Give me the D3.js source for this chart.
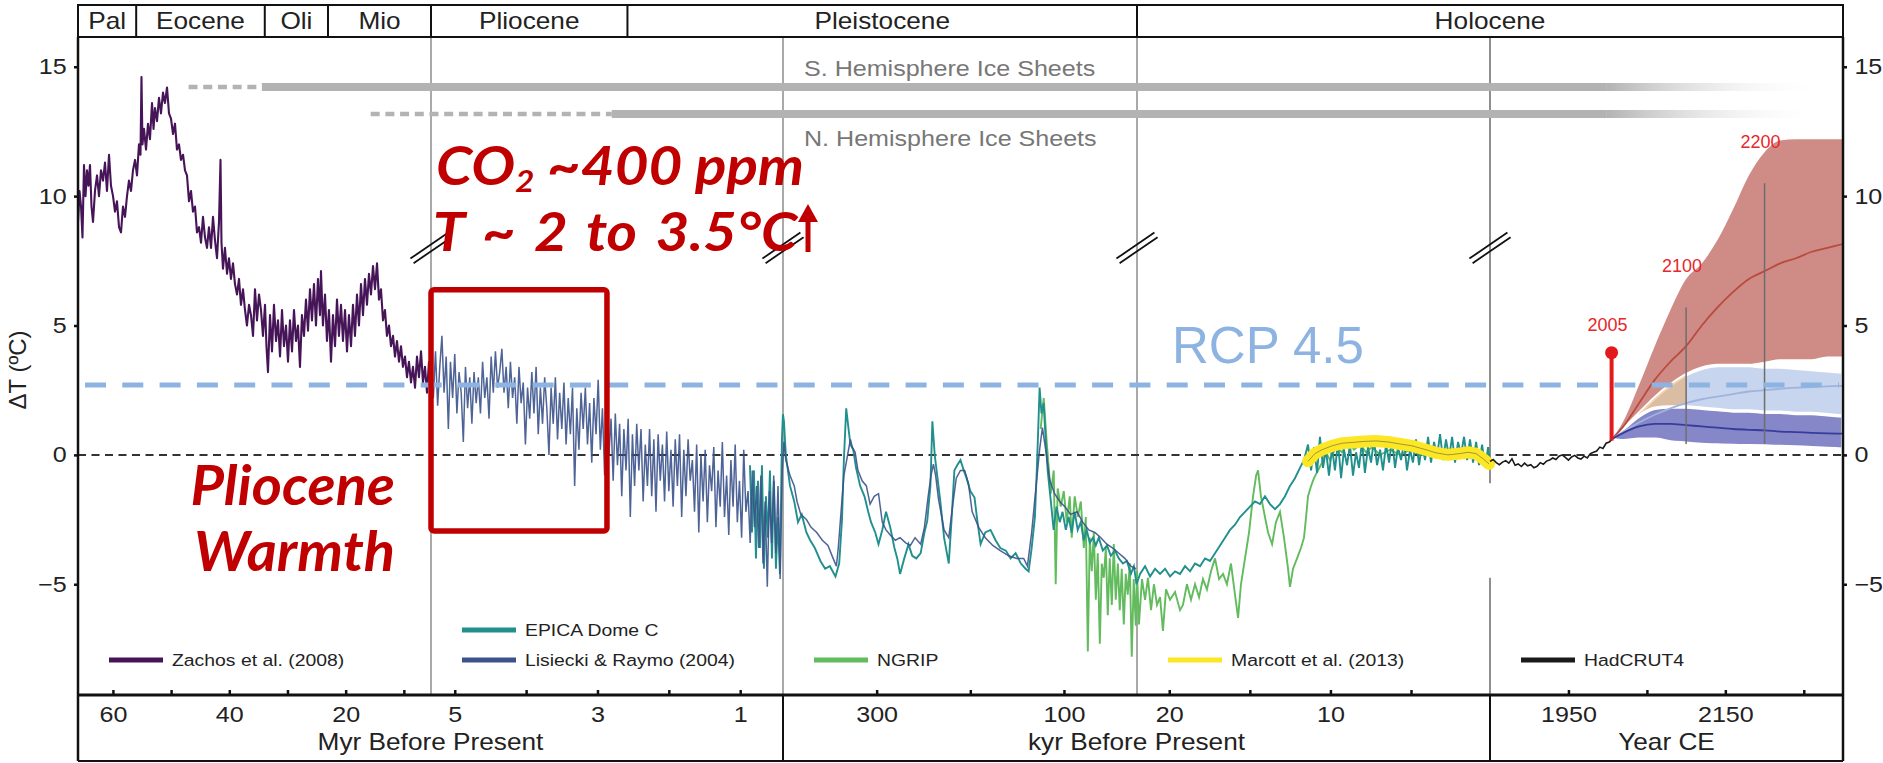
<!DOCTYPE html>
<html>
<head>
<meta charset="utf-8">
<script src="https://cdn.jsdelivr.net/npm/d3@7"></script>
<style>
  html, body { margin: 0; padding: 0; background: #fff; }
  svg { display: block; font-family: "Liberation Sans", Arial, sans-serif; }
</style>
</head>
<body>
<svg id="chart" width="1883" height="763"></svg>
<script>
// ---------- data ----------

// broken time axis: four "age before present" panels (kyr) and one calendar panel (year CE)
const panelDomains = [[66000, 5333], [5333, 400], [400, 22], [22, 0.1], [1850, 2300]];
const tickValuesByPanel = [
  [60000, 50000, 40000, 30000, 20000, 10000],
  [5000, 4000, 3000, 2000, 1000],
  [300, 200, 100],
  [20, 15, 10, 5],
  [1950, 2050, 2150, 2250]
];
const tickLabelsByPanel = [
  ['60', '', '40', '', '20', ''],
  ['5', '', '3', '', '1'],
  ['300', '', '100'],
  ['20', '', '10', ''],
  ['1950', '', '2150', '']
];
const axisTitles = ['Myr Before Present', 'kyr Before Present', 'Year CE'];
const axisTitlePanels = [[0, 2], [2, 4], [4, 5]];
const yTicks = [-5, 0, 5, 10, 15];

// geologic epochs (boundaries in kyr before present, last one runs to the end of the axis)
const epochNames = ['Pal', 'Eocene', 'Oli', 'Mio', 'Pliocene', 'Pleistocene', 'Holocene'];
const epochStarts = [66000, 56000, 33900, 23030, 5333, 2580, 22];

// ice sheets: dotted start (kyr), solid start (kyr), fade start (year CE), end (year CE), level (°C)
const iceLabels = ['S. Hemisphere Ice Sheets', 'N. Hemisphere Ice Sheets'];
const iceDottedFrom = [47000, 15700];
const iceSolidFrom = [34400, 2800];
const iceFadeFrom = [1999, 1999];
const iceEnd = [2275, 2275];
const iceLevel = [14.22, 13.17];
const iceLabelLevel = [14.64, 11.95];

// Zachos et al. (2008), [Myr, °C]
const zachos = [[66.00,9.0],[65.74,10.2],[65.48,9.6],[65.23,8.4],[64.97,11.2],[64.71,10.0],[64.45,11.0],[64.20,10.4],[63.94,11.2],[63.68,9.6],[63.42,9.0],[63.08,10.2],[62.73,10.8],[62.39,10.0],[62.05,11.0],[61.70,10.6],[61.36,11.3],[61.02,10.2],[60.67,11.6],[60.33,10.4],[59.98,10.0],[59.64,9.4],[59.30,9.8],[58.95,8.8],[58.61,8.6],[58.27,9.6],[57.92,9.2],[57.58,10.0],[57.24,10.6],[56.89,10.2],[56.55,11.0],[56.20,11.4],[55.86,10.8],[55.52,12.0],[55.26,11.6],[55.09,14.6],[54.92,12.0],[54.66,12.6],[54.31,11.8],[53.97,12.8],[53.63,12.2],[53.28,13.6],[53.02,12.6],[52.77,13.4],[52.42,12.9],[52.08,13.8],[51.74,13.2],[51.39,14.0],[51.05,13.6],[50.70,14.2],[50.36,13.2],[50.02,13.0],[49.67,12.4],[49.33,12.8],[48.99,11.8],[48.64,12.0],[48.30,11.4],[47.95,11.6],[47.61,11.0],[47.27,10.8],[46.92,9.8],[46.58,10.2],[46.24,9.4],[45.89,9.6],[45.55,8.6],[45.20,8.8],[44.86,8.2],[44.52,9.2],[44.17,8.4],[43.83,8.0],[43.49,8.8],[43.14,8.0],[42.80,9.2],[42.46,8.3],[42.11,7.6],[41.77,9.0],[41.51,11.4],[41.34,8.2],[41.08,7.2],[40.74,8.0],[40.39,7.0],[40.05,7.6],[39.71,6.8],[39.36,7.4],[39.02,6.6],[38.67,6.2],[38.33,6.8],[37.99,5.8],[37.64,6.4],[37.30,5.6],[36.96,5.0],[36.61,5.8],[36.27,5.4],[35.92,4.6],[35.58,6.4],[35.24,5.2],[34.89,6.2],[34.55,5.6],[34.21,4.6],[33.86,5.8],[33.61,4.2],[33.35,3.2],[33.00,5.4],[32.66,4.0],[32.32,5.8],[31.97,4.4],[31.63,5.2],[31.28,3.8],[30.94,5.6],[30.60,4.2],[30.25,5.0],[29.91,3.6],[29.57,5.2],[29.22,4.0],[28.88,5.6],[28.54,4.4],[28.19,5.0],[27.85,3.4],[27.51,5.4],[27.16,4.6],[26.82,6.0],[26.47,4.8],[26.13,6.4],[25.79,5.2],[25.44,6.6],[25.10,5.0],[24.76,6.8],[24.41,5.4],[24.24,7.1],[23.90,5.0],[23.55,6.2],[23.21,4.4],[22.87,5.6],[22.52,3.6],[22.18,5.4],[21.83,4.2],[21.49,6.0],[21.15,4.6],[20.80,5.8],[20.46,4.4],[20.11,5.6],[19.77,4.0],[19.43,5.4],[19.08,4.2],[18.74,5.8],[18.40,4.6],[18.05,6.2],[17.71,5.0],[17.36,6.6],[17.02,5.4],[16.68,6.8],[16.33,5.8],[15.99,7.0],[15.65,6.2],[15.30,7.3],[14.96,6.4],[14.61,7.4],[14.27,6.0],[13.93,6.4],[13.58,5.2],[13.24,5.6],[12.90,4.6],[12.55,5.0],[12.21,4.2],[11.86,4.6],[11.52,3.8],[11.18,4.4],[10.83,3.6],[10.49,4.2],[10.15,3.4],[9.80,3.8],[9.46,3.0],[9.12,3.6],[8.77,2.8],[8.43,3.4],[8.08,2.6],[7.74,3.8],[7.40,3.0],[7.05,4.0],[6.71,2.8],[6.37,3.4],[6.02,2.4],[5.68,3.6],[5.33,3.2]];

// Lisiecki & Raymo (2004), [kyr, °C]
const lisiecki = [[5330,3.6],[5300,2.2],[5270,4.0],[5240,1.9],[5210,3.4],[5180,4.6],[5150,2.4],[5120,3.8],[5090,1.0],[5060,3.6],[5030,2.2],[5000,3.9],[4970,1.6],[4940,3.2],[4910,2.4],[4880,0.5],[4850,3.4],[4820,1.8],[4790,3.0],[4760,1.2],[4730,3.2],[4700,2.0],[4670,3.0],[4640,1.6],[4610,3.6],[4580,2.2],[4550,3.0],[4520,1.4],[4490,3.8],[4460,2.4],[4430,4.0],[4400,2.6],[4370,3.2],[4340,4.1],[4310,2.4],[4280,3.4],[4250,1.8],[4220,3.6],[4190,2.2],[4160,3.0],[4130,1.2],[4100,3.4],[4070,2.0],[4040,2.8],[4010,0.4],[3980,2.6],[3950,1.4],[3920,3.2],[3890,1.6],[3860,3.4],[3830,0.8],[3800,2.6],[3770,1.2],[3740,3.0],[3710,1.8],[3680,0.0],[3650,2.6],[3620,1.2],[3590,3.0],[3560,0.6],[3530,2.4],[3500,1.0],[3470,2.8],[3440,0.4],[3410,2.2],[3380,0.8],[3350,2.6],[3320,-1.2],[3290,1.8],[3260,0.2],[3230,2.4],[3200,1.0],[3170,2.6],[3140,0.4],[3110,2.0],[3080,-0.3],[3050,2.2],[3020,0.8],[2990,2.9],[2960,0.2],[2930,1.8],[2900,-0.8],[2870,2.0],[2840,0.0],[2810,1.4],[2780,-1.0],[2750,1.6],[2720,-0.4],[2690,1.2],[2660,-1.6],[2630,1.0],[2600,-0.6],[2570,1.4],[2540,-2.4],[2510,0.8],[2480,-1.2],[2450,1.2],[2420,-0.6],[2390,1.0],[2360,-1.8],[2330,0.4],[2300,-1.2],[2270,1.0],[2240,-1.6],[2210,0.6],[2180,-2.2],[2150,0.8],[2120,-1.0],[2090,0.4],[2060,-1.8],[2030,0.9],[2000,-1.4],[1970,0.2],[1940,-2.0],[1910,0.6],[1880,-1.2],[1850,0.8],[1820,-2.4],[1790,0.2],[1760,-1.6],[1730,0.6],[1700,-1.0],[1670,-0.2],[1640,-2.2],[1610,0.4],[1580,-3.0],[1550,0.0],[1520,-1.8],[1490,0.2],[1460,-2.6],[1430,-0.4],[1400,-1.4],[1370,0.3],[1340,-2.8],[1310,-0.6],[1280,-2.0],[1250,0.5],[1220,-2.4],[1190,-0.8],[1160,-3.1],[1130,-0.2],[1100,-2.0],[1070,0.4],[1040,-2.6],[1010,-1.0],[980,-3.2],[950,0.2],[920,-2.2],[890,-1.4],[860,-3.4],[830,-0.6],[800,-2.8],[770,-1.2],[740,-3.6],[710,-0.8],[680,-4.2],[650,-1.8],[620,-5.1],[590,-1.4],[560,-3.4],[530,-0.8],[500,-3.8],[470,-1.2],[440,-4.8],[410,-0.6],
  [399,0.5],[397,-0.2],[392.5,-0.8],[388,-1.2],[385,-1.8],[381,-2.3],[375,-2.5],[370,-2.8],[364,-3.0],[358,-3.3],[352,-3.5],[346.5,-4.0],[343,-4.3],[341,-3.6],[338,-2.2],[335,-0.8],[330,0.2],[328,0.6],[326,0.3],[323,0.1],[320,-0.6],[315.5,-1.0],[311,-1.2],[307,-1.9],[302.6,-1.6],[298,-1.5],[294,-2.6],[290,-2.9],[285.5,-3.1],[280,-3.3],[275,-3.2],[269,-3.4],[264,-3.5],[259,-3.2],[253,-3.45],[249,-2.8],[245,-1.6],[242,-0.8],[239.4,-0.36],[237,-0.8],[234,-1.7],[228,-2.9],[223,-3.2],[219,-2.0],[215,-0.9],[210.5,-0.6],[206,-0.6],[202,-1.1],[198,-2.2],[191,-2.8],[184,-3.2],[176,-3.5],[168,-3.7],[159,-3.9],[150.5,-4.0],[143,-4.0],[139,-4.3],[134.5,-3.0],[130,-1.3],[126,0.2],[123,1.05],[119.5,0.2],[115,-1.0],[110,-1.5],[104.5,-1.8],[99,-2.0],[93,-2.3],[86,-2.2],[80,-2.6],[73.5,-2.9],[67,-3.0],[60.6,-3.2],[54.2,-3.45],[47.8,-3.6],[41.4,-3.8],[35,-4.0],[28.5,-4.3],[23.2,-4.4]];

// EPICA Dome C, [kyr, °C]
const epica = [[863,-0.4],[835,-3.0],[807,-0.6],[779,-4.0],[751,-1.0],[723,-3.6],[695,-0.4],[667,-4.4],[639,-1.6],[611,-3.2],[583,-0.6],[555,-4.0],[527,-1.0],[499,-4.4],[471,-2.4],[443,-4.6],[415,0.6],[401,1.57],
  [399,1.3],[397,0.0],[392.5,-1.2],[388,-1.8],[384,-2.6],[380,-2.3],[375,-3.0],[371,-3.3],[366,-3.6],[360,-4.1],[355,-4.4],[350,-4.3],[344,-4.7],[340,-4.2],[337,-2.5],[335,-0.2],[332.5,1.8],[330,1.0],[328,0.4],[325,0.2],[322,-0.5],[317.6,-1.2],[313,-1.6],[309,-2.2],[306,-2.6],[301.5,-3.0],[298,-3.45],[294,-2.9],[290,-2.2],[285.5,-2.8],[281,-3.6],[278,-4.0],[275,-4.6],[270.5,-4.0],[266,-3.45],[262,-3.9],[257.6,-4.0],[253,-3.8],[249,-3.0],[246,-2.55],[242.6,-1.2],[240.5,1.3],[238,0.0],[236,-0.6],[232,-1.8],[228,-3.2],[223,-4.2],[220,-2.5],[217,-0.6],[214,-0.4],[210.5,-0.2],[207,-0.6],[204,-0.9],[200,-1.4],[195.5,-1.65],[192.3,-2.6],[189,-3.45],[184,-3.0],[178.4,-2.9],[173,-3.3],[168,-3.6],[162,-3.7],[157,-4.0],[151.6,-3.8],[146,-4.2],[141,-4.4],[137.7,-4.5],[134.5,-3.6],[131,-2.4],[129,-0.6],[127,1.5],[126,2.6],[124,1.6],[121.7,2.0],[119.5,0.6],[117.4,-0.6],[114,-1.8],[111,-2.9],[108,-2.0],[104.5,-2.6],[101.5,-2.2],[98,-2.9],[95,-2.4],[91.8,-3.0],[88.6,-2.2],[85.3,-2.9],[82,-2.6],[78.9,-3.3],[75.7,-2.9],[72.4,-3.4],[69,-3.2],[66,-3.5],[62.8,-3.2],[58.5,-3.7],[54,-3.5],[50,-3.9],[45.6,-3.7],[41.4,-4.0],[37,-4.2],[32.8,-4.1],[28.5,-4.6],[25.3,-4.3],[22.5,-5.0],
  [21.81,-4.6],[21.50,-4.3],[21.19,-4.7],[20.88,-4.4],[20.57,-4.6],[20.26,-4.4],[19.95,-4.7],[19.64,-4.5],[19.33,-4.6],[19.02,-4.3],[18.71,-4.5],[18.40,-4.2],[18.09,-4.3],[17.78,-4.0],[17.47,-4.1],[17.16,-3.8],[16.85,-3.5],[16.54,-3.2],[16.23,-2.9],[15.92,-2.7],[15.61,-2.4],[15.30,-2.2],[14.99,-2.0],[14.68,-1.8],[14.37,-1.9],[14.06,-1.6],[13.75,-1.9],[13.44,-2.1],[13.13,-1.9],[12.82,-1.6],[12.51,-1.2],[12.20,-0.9],[11.89,-0.5],[11.64,-0.2],[11.39,0.4],[11.20,-0.6],[11.02,0.3],[10.83,-0.7],[10.65,0.7],[10.46,-0.5],[10.28,0.2],[10.09,-0.8],[9.90,0.3],[9.72,-0.6],[9.53,0.5],[9.34,-0.9],[9.16,0.2],[8.97,-0.4],[8.79,0.4],[8.60,-0.8],[8.41,0.1],[8.23,-0.5],[8.04,0.5],[7.86,-0.7],[7.67,0.3],[7.48,-0.3],[7.30,0.6],[7.11,-0.4],[6.92,0.2],[6.74,-0.6],[6.55,0.4],[6.36,-0.3],[6.18,0.6],[5.99,-0.5],[5.81,0.3],[5.62,-0.2],[5.43,0.5],[5.25,-0.6],[5.06,0.2],[4.88,-0.3],[4.69,0.6],[4.50,-0.4],[4.32,0.4],[4.13,-0.2],[3.94,0.7],[3.76,-0.3],[3.57,0.5],[3.39,-0.1],[3.20,0.8],[3.01,-0.2],[2.83,0.6],[2.64,-0.1],[2.45,0.7],[2.27,-0.3],[2.08,0.5],[1.90,0.0],[1.71,0.7],[1.52,-0.2],[1.34,0.6],[1.15,-0.3],[0.96,0.5],[0.78,-0.4],[0.59,0.4],[0.40,-0.5],[0.22,0.3],[0.10,-0.3]];

// NGRIP, [kyr, °C]
const ngrip = [[124.9,1.0],[121.6,2.2],[118.4,0.5],[114.1,-1.5],[110.9,-0.6],[108.8,-5.0],[106.7,-1.3],[103.4,-2.0],[100.2,-1.4],[97.0,-2.6],[93.8,-1.6],[91.7,-3.2],[88.5,-1.6],[85.2,-2.4],[82.0,-1.8],[78.8,-3.6],[76.7,-2.4],[74.5,-7.6],[72.4,-3.2],[70.3,-4.5],[68.1,-3.0],[66.0,-5.6],[63.9,-3.8],[61.7,-7.3],[59.6,-4.2],[57.5,-4.75],[55.3,-3.6],[53.2,-6.2],[51.1,-4.0],[48.9,-5.8],[46.8,-3.45],[44.7,-5.6],[42.4,-4.2],[40.4,-6.0],[38.3,-4.4],[36.1,-6.55],[34.0,-4.6],[31.9,-5.4],[29.7,-4.2],[27.6,-7.8],[25.5,-4.8],[23.3,-6.6],
  [22.0,-4.5],[21.88,-6.55],[21.69,-4.8],[21.50,-5.6],[21.32,-4.75],[21.13,-6.0],[20.95,-5.0],[20.76,-5.8],[20.57,-5.5],[20.39,-6.8],[20.20,-5.2],[19.95,-5.6],[19.64,-5.3],[19.33,-6.0],[19.15,-5.8],[18.90,-5.0],[18.65,-5.6],[18.40,-5.0],[18.15,-5.5],[17.91,-4.8],[17.66,-5.2],[17.41,-4.5],[17.16,-4.0],[16.91,-4.8],[16.66,-4.6],[16.42,-5.0],[16.17,-4.2],[15.92,-5.4],[15.73,-6.3],[15.55,-5.0],[15.30,-4.0],[15.05,-3.0],[14.80,-1.6],[14.61,-0.8],[14.49,-0.6],[14.31,-1.6],[14.06,-2.4],[13.87,-3.0],[13.62,-3.45],[13.38,-2.6],[13.13,-2.2],[12.88,-3.2],[12.63,-4.4],[12.51,-5.1],[12.32,-4.4],[12.07,-4.0],[11.83,-3.6],[11.64,-3.2],[11.51,-2.4],[11.39,-1.6],[11.20,-1.2],[11.02,-0.9],[10.77,-0.6],[10.52,-0.3],[10.28,0.1],[10.03,-0.2],[9.65,0.3],[9.28,0.1],[8.91,0.5],[8.54,0.2],[8.16,0.4],[7.79,0.1],[7.42,0.3],[6.92,0.0],[6.30,0.2],[5.68,0.0],[5.06,0.2],[4.44,0.0],[3.82,0.1],[3.20,0.0],[2.58,-0.1],[1.96,0.0],[1.34,-0.1],[0.72,-0.2],[0.10,-0.3]];

// Marcott et al. (2013), [kyr, °C]
const marcott = [[11.39,-0.25],[10.96,0.05],[10.52,0.2],[9.90,0.35],[9.28,0.45],[8.66,0.48],[7.92,0.52],[7.17,0.54],[6.43,0.5],[5.68,0.42],[4.94,0.35],[4.19,0.22],[3.45,0.08],[2.71,0.0],[1.96,0.05],[1.46,0.1],[0.97,0.05],[0.53,-0.15],[0.16,-0.35]];

// HadCRUT4, [year CE, °C]
const hadcrut = [[1850,-0.25],[1854,-0.18],[1858,-0.3],[1862,-0.38],[1866,-0.28],[1870,-0.22],[1874,-0.32],[1878,-0.15],[1882,-0.4],[1886,-0.35],[1890,-0.45],[1894,-0.32],[1898,-0.42],[1902,-0.38],[1906,-0.5],[1910,-0.44],[1914,-0.3],[1918,-0.36],[1922,-0.24],[1926,-0.2],[1930,-0.12],[1934,-0.18],[1938,-0.05],[1942,0.0],[1946,-0.1],[1950,-0.2],[1954,-0.08],[1958,-0.02],[1962,-0.12],[1966,-0.16],[1970,-0.05],[1974,-0.12],[1978,0.05],[1982,0.1],[1986,0.15],[1990,0.3],[1994,0.25],[1998,0.45],[2002,0.5],[2005,0.58]];

// projections 2005-2300
const projYears = [2005, 2020, 2040, 2060, 2080, 2100, 2120, 2140, 2160, 2180, 2200, 2220, 2240, 2260, 2280, 2300];
const rcp85High = [0.6, 1.3, 2.7, 4.2, 5.6, 6.8, 7.4, 8.3, 9.5, 10.8, 11.7, 12.15, 12.2, 12.2, 12.2, 12.2];
const rcp85Low = [0.6, 0.9, 1.4, 1.9, 2.4, 2.8, 3.1, 3.3, 3.4, 3.5, 3.6, 3.7, 3.7, 3.7, 3.8, 3.8];
const rcp85Mid = [0.6, 1.1, 2.0, 2.9, 3.6, 4.2, 5.0, 5.7, 6.3, 6.8, 7.1, 7.4, 7.6, 7.85, 8.0, 8.15];
const rcp45High = [0.6, 1.0, 1.6, 2.2, 2.7, 3.1, 3.35, 3.45, 3.45, 3.45, 3.4, 3.4, 3.35, 3.3, 3.25, 3.2];
const rcp45Low = [0.6, 0.8, 1.0, 1.2, 1.35, 1.45, 1.5, 1.55, 1.55, 1.55, 1.55, 1.55, 1.55, 1.5, 1.5, 1.5];
const rcp45Mid = [0.6, 0.9, 1.25, 1.55, 1.8, 2.0, 2.15, 2.25, 2.35, 2.45, 2.5, 2.55, 2.6, 2.62, 2.65, 2.67];
const rcp26High = [0.6, 1.0, 1.5, 1.8, 1.85, 1.85, 1.8, 1.75, 1.7, 1.7, 1.65, 1.65, 1.6, 1.6, 1.55, 1.5];
const rcp26Low = [0.6, 0.55, 0.6, 0.6, 0.5, 0.45, 0.4, 0.38, 0.36, 0.35, 0.34, 0.32, 0.3, 0.28, 0.25, 0.22];
const rcp26Mid = [0.6, 0.85, 1.1, 1.2, 1.2, 1.15, 1.1, 1.05, 1.0, 0.97, 0.95, 0.9, 0.88, 0.85, 0.83, 0.82];
const rcp60Years = [2005, 2020, 2040, 2060, 2080, 2100];
const rcp60High = [0.6, 1.0, 1.6, 2.2, 2.7, 3.1];
const rcp60Low = [0.6, 0.8, 1.1, 1.4, 1.7, 2.0];

// year markers on the projections
const markYears = [2100, 2200];
const markTops = [5.7, 10.5];
const markLabels = ['2005', '2100', '2200'];
const markLabelYears = [2005, 2100, 2200];
const markLabelLevels = [4.8, 7.05, 11.85];
const pinYear = 2005, pinBase = 0.55, pinTop = 3.95;

const rcpLevel = 2.7;
const legendLabels = ['Zachos et al. (2008)', 'EPICA Dome C', 'Lisiecki & Raymo (2004)', 'NGRIP', 'Marcott et al. (2013)', 'HadCRUT4'];

// ---------- layout ----------
const W = 1883, H = 763;
const plotLeft = 78, plotRight = 1843, plotTop = 37, plotBottom = 695;
const headerTop = 5, boxBottom = 761;
const panelEdges = [78, 431, 783, 1137, 1490, 1843];
const sx = 1.14; // the source figure's lettering is a bit wide
const colors = { zachos: '#461558', lisiecki: '#3b528b', epica: '#21908d', ngrip: '#62bb5c', marcott: '#fde725', hadcrut: '#1a1a1a' };
const red = '#c00000';

const svg = d3.select('#chart');

const y = d3.scaleLinear().domain([-9.28, 16.15]).range([plotBottom, plotTop]);
const panelScales = panelDomains.map((d, i) => d3.scaleLinear().domain(d).range([panelEdges[i], panelEdges[i + 1]]));
const xYear = panelScales[4];
const xAge = kyr => {
  for (let i = 0; i < 3; i++) if (kyr > panelDomains[i][1]) return panelScales[i](kyr);
  return panelScales[3](kyr);
};

const stretchText = (g, x, yy, str, size, anchor) => g.append('text')
  .attr('transform', `translate(${x},${yy}) scale(${sx},1)`)
  .attr('font-size', size).attr('text-anchor', anchor || 'middle').text(str);

// gradient for the fading ice-sheet bars
const defs = svg.append('defs');
const grad = defs.append('linearGradient').attr('id', 'iceFade')
  .attr('gradientUnits', 'userSpaceOnUse')
  .attr('x1', xYear(iceFadeFrom[0])).attr('x2', xYear(iceEnd[0])).attr('y1', 0).attr('y2', 0);
grad.append('stop').attr('offset', 0).attr('stop-color', '#b3b3b3');
grad.append('stop').attr('offset', 1).attr('stop-color', '#ffffff').attr('stop-opacity', 0);

// panel separators (the last one is interrupted behind the legend area)
const sep = svg.append('g').attr('stroke', '#a9a9a9').attr('stroke-width', 2);
panelEdges.slice(1, 4).forEach(px => sep.append('line').attr('x1', px).attr('x2', px).attr('y1', plotTop).attr('y2', plotBottom));
sep.append('line').attr('x1', panelEdges[4]).attr('x2', panelEdges[4]).attr('y1', plotTop).attr('y2', y(-1.1)).attr('stroke', '#8f8f8f');
sep.append('line').attr('x1', panelEdges[4]).attr('x2', panelEdges[4]).attr('y1', y(-4.75)).attr('y2', plotBottom).attr('stroke', '#8f8f8f');

// ice sheets
iceLabels.forEach((lab, i) => {
  const yy = y(iceLevel[i]);
  svg.append('line').attr('x1', xAge(iceDottedFrom[i])).attr('x2', xAge(iceSolidFrom[i]))
    .attr('y1', yy).attr('y2', yy).attr('stroke', '#b3b3b3').attr('stroke-width', 4.5).attr('stroke-dasharray', '9 5.7');
  svg.append('line').attr('x1', xAge(iceSolidFrom[i])).attr('x2', xYear(iceFadeFrom[i]))
    .attr('y1', yy).attr('y2', yy).attr('stroke', '#b3b3b3').attr('stroke-width', 8);
  svg.append('line').attr('x1', xYear(iceFadeFrom[i])).attr('x2', xYear(iceEnd[i]))
    .attr('y1', yy).attr('y2', yy).attr('stroke', 'url(#iceFade)').attr('stroke-width', 8);
  stretchText(svg, panelEdges[2] + 21, y(iceLabelLevel[i]), lab, 22, 'start').attr('fill', '#777');
});

// zero line
svg.append('line').attr('x1', plotLeft).attr('x2', plotRight).attr('y1', y(0)).attr('y2', y(0))
  .attr('stroke', '#333').attr('stroke-width', 2).attr('stroke-dasharray', '8 5.5');

// ---------- projections ----------
const zip = (yrs, lo, hi) => yrs.map((yr, i) => ({ yr, lo: lo[i], hi: hi[i] }));
const band = d3.area().x(d => xYear(d.yr)).y0(d => y(d.lo)).y1(d => y(d.hi)).curve(d3.curveMonotoneX);
const mid = vals => d3.line().x((d, i) => xYear(projYears[i])).y(d => y(d)).curve(d3.curveMonotoneX)(vals);

svg.append('path').attr('d', band(zip(projYears, rcp85Low, rcp85High))).attr('fill', '#cf8b85');
svg.append('path').attr('d', band(zip(projYears, rcp45Low, rcp45High))).attr('fill', '#c7d5ef')
  .attr('stroke', '#fff').attr('stroke-width', 3.5);
svg.append('path').attr('d', band(zip(rcp60Years, rcp60Low, rcp60High))).attr('fill', '#f0a55a').attr('opacity', 0.5);
svg.append('path').attr('d', band(zip(projYears, rcp26Low, rcp26High))).attr('fill', '#8687c8')
  .attr('stroke', '#fff').attr('stroke-width', 3.5);
svg.append('path').attr('d', mid(rcp85Mid)).attr('fill', 'none').attr('stroke', '#bb4a3e').attr('stroke-width', 1.8);
svg.append('path').attr('d', mid(rcp45Mid)).attr('fill', 'none').attr('stroke', '#9fb3dd').attr('stroke-width', 1.8);
svg.append('path').attr('d', mid(rcp26Mid)).attr('fill', 'none').attr('stroke', '#373c9c').attr('stroke-width', 1.8);

markYears.forEach((yr, i) => svg.append('line').attr('x1', xYear(yr)).attr('x2', xYear(yr))
  .attr('y1', y(markTops[i])).attr('y2', y(0.42)).attr('stroke', '#6e6e6e').attr('stroke-width', 1.5));

// ---------- paleo series ----------
const ageLine = d3.line().x(d => xAge(d[0])).y(d => y(d[1]));
svg.append('path').attr('d', ageLine(zachos.map(d => [d[0] * 1000, d[1]])))
  .attr('fill', 'none').attr('stroke', colors.zachos).attr('stroke-width', 2.1).attr('stroke-linejoin', 'round');
svg.append('path').attr('d', ageLine(ngrip)).attr('fill', 'none').attr('stroke', colors.ngrip).attr('stroke-width', 1.9);
svg.append('path').attr('d', ageLine(epica)).attr('fill', 'none').attr('stroke', colors.epica).attr('stroke-width', 1.9);
svg.append('path').attr('d', ageLine(lisiecki)).attr('fill', 'none').attr('stroke', colors.lisiecki)
  .attr('stroke-width', 1.5).attr('opacity', 0.9);
svg.append('path').attr('d', ageLine(marcott)).attr('fill', 'none').attr('stroke', colors.marcott)
  .attr('stroke-width', 12).attr('stroke-linecap', 'round').attr('stroke-linejoin', 'round');
svg.append('path').attr('d', ageLine(marcott)).attr('fill', 'none').attr('stroke', '#a0953a').attr('stroke-width', 1);
svg.append('path').attr('d', d3.line().x(d => xYear(d[0])).y(d => y(d[1]))(hadcrut))
  .attr('fill', 'none').attr('stroke', colors.hadcrut).attr('stroke-width', 1.6);

// RCP 4.5 reference level
svg.append('line').attr('x1', plotLeft + 7).attr('x2', plotRight - 4).attr('y1', y(rcpLevel)).attr('y2', y(rcpLevel))
  .attr('stroke', '#8db3e2').attr('stroke-width', 5).attr('stroke-dasharray', '21 16.3');
svg.append('text').attr('x', 1172).attr('y', 363).attr('font-size', 51).attr('fill', '#8db3e2').text('RCP 4.5');

// 2005 pin and year labels
svg.append('line').attr('x1', xYear(pinYear)).attr('x2', xYear(pinYear)).attr('y1', y(pinBase)).attr('y2', y(pinTop))
  .attr('stroke', '#e31a1c').attr('stroke-width', 4);
svg.append('circle').attr('cx', xYear(pinYear)).attr('cy', y(pinTop)).attr('r', 6.5).attr('fill', '#e31a1c');
markLabels.forEach((lab, i) => svg.append('text').attr('x', xYear(markLabelYears[i]) - 4).attr('y', y(markLabelLevels[i]))
  .attr('font-size', 18).attr('fill', '#e8262b').attr('text-anchor', 'middle').text(lab));

// axis break marks
panelEdges.slice(1, 5).forEach(px => {
  const cy = y(8.0);
  [-1, 1].forEach(s => svg.append('line')
    .attr('x1', px - 19 + s * 1.6).attr('y1', cy + 13 + s * 2.3)
    .attr('x2', px + 19 + s * 1.6).attr('y2', cy - 13 + s * 2.3)
    .attr('stroke', '#111').attr('stroke-width', 1.8));
});

// ---------- red annotations ----------
const note = svg.append('g').attr('fill', red).attr('font-family', 'Lato, "Open Sans", sans-serif')
  .attr('font-weight', 'bold').attr('font-style', 'italic');
const co2 = note.append('text').attr('transform', 'translate(436,185) scale(1.1,1)').attr('font-size', 53);
co2.append('tspan').text('CO');
co2.append('tspan').attr('font-size', 30).attr('dy', 7).text('2');
co2.append('tspan').attr('dy', -7).text(' ~400 ppm');
co2.append('tspan').attr('x', -3).attr('dy', 66).attr('word-spacing', 5).text('T ~ 2 to 3.5°C');
const warm = note.append('text').attr('transform', 'translate(395,505) scale(1.05,1)').attr('font-size', 55).attr('text-anchor', 'end');
warm.append('tspan').attr('x', 0).text('Pliocene');
warm.append('tspan').attr('x', 0).attr('dy', 66).text('Warmth');
svg.append('line').attr('x1', 808).attr('x2', 808).attr('y1', 252).attr('y2', 220).attr('stroke', red).attr('stroke-width', 5);
svg.append('path').attr('d', 'M798,222 L818,222 L808,204 Z').attr('fill', red);
svg.append('rect').attr('x', xAge(5333)).attr('y', y(6.38)).attr('width', xAge(2867) - xAge(5333))
  .attr('height', y(-2.94) - y(6.38)).attr('rx', 3).attr('fill', 'none').attr('stroke', red).attr('stroke-width', 5.5);

// ---------- axes ----------
const leftAxis = svg.append('g').attr('transform', `translate(${plotLeft},0)`)
  .call(d3.axisLeft(y).tickValues(yTicks).tickSize(4).tickPadding(6));
const rightAxis = svg.append('g').attr('transform', `translate(${plotRight},0)`)
  .call(d3.axisRight(y).tickValues(yTicks).tickSize(4).tickPadding(6));
[leftAxis, rightAxis].forEach(g => {
  g.select('.domain').remove();
  g.selectAll('line').attr('stroke', '#111').attr('stroke-width', 2.5);
  g.selectAll('text').attr('font-size', 22).attr('fill', '#222').attr('font-family', '"Liberation Sans", Arial, sans-serif')
    .attr('transform', `scale(${sx},1)`);
});
svg.append('text').attr('transform', `translate(26,370) rotate(-90)`).attr('font-size', 24).attr('fill', '#222')
  .attr('text-anchor', 'middle').text('ΔT (ºC)');

// bottom ticks per panel
panelScales.forEach((sc, i) => {
  const g = svg.append('g').attr('transform', `translate(0,${plotBottom})`)
    .call(d3.axisBottom(sc).tickValues(tickValuesByPanel[i]).tickFormat((d, j) => tickLabelsByPanel[i][j])
      .tickSizeInner(-5).tickSizeOuter(0).tickPadding(11));
  g.select('.domain').remove();
  g.selectAll('line').attr('stroke', '#111').attr('stroke-width', 2.5);
  g.selectAll('text').attr('font-size', 22).attr('fill', '#222').attr('font-family', '"Liberation Sans", Arial, sans-serif')
    .attr('transform', `scale(${sx},1)`);
});
axisTitles.forEach((t, i) => {
  const [a, b] = axisTitlePanels[i];
  stretchText(svg, (panelEdges[a] + panelEdges[b]) / 2, 750, t, 23).attr('fill', '#222');
});

// frames
const frame = svg.append('g').attr('fill', 'none').attr('stroke', '#111');
frame.append('line').attr('x1', plotLeft).attr('x2', plotLeft).attr('y1', plotTop).attr('y2', boxBottom).attr('stroke-width', 2.5);
frame.append('line').attr('x1', plotRight).attr('x2', plotRight).attr('y1', plotTop).attr('y2', boxBottom).attr('stroke-width', 2.5);
frame.append('line').attr('x1', plotLeft).attr('x2', plotRight).attr('y1', plotBottom).attr('y2', plotBottom).attr('stroke-width', 3);
frame.append('line').attr('x1', plotLeft).attr('x2', plotRight).attr('y1', boxBottom).attr('y2', boxBottom).attr('stroke-width', 2);
[panelEdges[2], panelEdges[4]].forEach(px => frame.append('line').attr('x1', px).attr('x2', px)
  .attr('y1', plotBottom).attr('y2', boxBottom).attr('stroke-width', 2));

// header with epochs
frame.append('rect').attr('x', plotLeft).attr('y', headerTop).attr('width', plotRight - plotLeft)
  .attr('height', plotTop - headerTop).attr('stroke-width', 2);
epochNames.forEach((name, i) => {
  const x0 = xAge(epochStarts[i]);
  const x1 = i < epochNames.length - 1 ? xAge(epochStarts[i + 1]) : plotRight;
  if (i > 0) frame.append('line').attr('x1', x0).attr('x2', x0).attr('y1', headerTop).attr('y2', plotTop).attr('stroke-width', 2);
  stretchText(svg, (x0 + x1) / 2, 29, name, 23).attr('fill', '#222');
});

// legend
const legendPanel = [0, 1, 1, 2, 3, 4];
const legendRow = [1, 0, 1, 1, 1, 1];
const legendColors = [colors.zachos, colors.epica, colors.lisiecki, colors.ngrip, colors.marcott, colors.hadcrut];
legendLabels.forEach((lab, i) => {
  const lx = panelEdges[legendPanel[i]] + 31;
  const ly = 630 + legendRow[i] * 30;
  svg.append('line').attr('x1', lx).attr('x2', lx + 54).attr('y1', ly).attr('y2', ly)
    .attr('stroke', legendColors[i]).attr('stroke-width', 5);
  stretchText(svg, lx + 63, ly + 6, lab, 17, 'start').attr('fill', '#222');
});
</script>
</body>
</html>
